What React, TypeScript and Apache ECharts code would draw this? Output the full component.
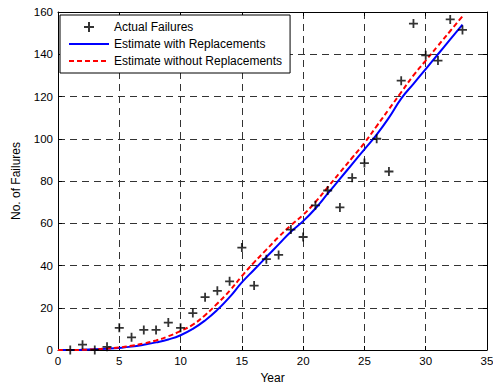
import React, { useEffect, useRef } from "react";
import * as echarts from "echarts";

const years: number[] = Array.from({ length: 34 }, (_, i) => i);
const actualYears: number[] = Array.from({ length: 33 }, (_, i) => i + 1);
const actualFailures: number[] = [
  0, 2.5, 0, 1.5, 10.5, 6, 9.5, 9.5, 13, 10.5, 17.5, 25, 28, 32.5, 48.5, 30.5,
  43, 45, 57, 53.5, 68.5, 75.5, 67.5, 81.5, 88.5, 100, 84.5, 127.5, 154.5, 139.5,
  137, 156.5, 151.5,
];
const estimateWith: number[] = [
  0, 0, 0.1, 0.3, 0.6, 1, 1.6, 2.5, 3.6, 5, 7, 10, 14, 19, 25, 32, 38, 44, 50,
  56, 61, 67, 74, 81, 88, 95, 102, 110, 119, 126, 133, 140, 147, 154,
];
const estimateWithout: number[] = [
  0, 0, 0.1, 0.3, 0.7, 1.2, 2, 3.1, 4.5, 6.5, 9, 12, 16.5, 22, 28, 35, 41.5, 47.5,
  53.5, 59, 64, 70, 77, 84, 91, 98, 106, 114, 122, 130, 137, 144, 151, 158,
];
const xTicks = { min: 0, max: 35, interval: 5 };
const yTicks = { min: 0, max: 160, interval: 20 };

const PLUS = "path://M4,0H6V4H10V6H6V10H4V6H0V4H4Z";
const FONT = "Liberation Sans, Arial, sans-serif";

export default function App() {
  const ref = useRef<HTMLDivElement>(null);
  useEffect(() => {
    if (!ref.current) return;
    const chart = echarts.init(ref.current, null, { renderer: "svg" });
    const grid = { left: 58, right: 6, top: 12, bottom: 34, containLabel: false, outerBoundsMode: "none" };
    const axisCommon = {
      axisLine: { show: true, onZero: false, lineStyle: { color: "#000", width: 1 } },
      axisTick: { show: true, inside: true, length: 4, lineStyle: { color: "#000" } },
    };
    chart.setOption({
      animation: false,
      backgroundColor: "#fff",
      textStyle: { fontFamily: FONT },
      grid,
      legend: {
        orient: "vertical",
        left: 60,
        top: 15,
        width: 242,
        padding: [6, 8, 6, 8],
        itemGap: 5,
        itemWidth: 40,
        itemHeight: 10,
        backgroundColor: "#fff",
        borderColor: "#000",
        borderWidth: 1,
        textStyle: { fontSize: 12, color: "#000", fontFamily: FONT },
        data: [
          { name: "Actual Failures" },
          { name: "Estimate with Replacements", itemStyle: { opacity: 0 } },
          { name: "Estimate without Replacements", itemStyle: { opacity: 0 } },
        ],
      },
      xAxis: [
        {
          type: "value",
          ...xTicks,
          name: "Year",
          nameLocation: "middle",
          nameGap: 21,
          nameTextStyle: { fontSize: 12, color: "#000" },
          ...axisCommon,
          axisLabel: { fontSize: 11.5, color: "#000", margin: 5 },
          splitLine: { show: true, lineStyle: { color: "#333", type: [7, 5], width: 1 } },
        },
        {
          type: "value",
          position: "top",
          ...xTicks,
          ...axisCommon,
          axisLabel: { show: false },
          splitLine: { show: false },
        },
      ],
      yAxis: [
        {
          type: "value",
          ...yTicks,
          name: "No. of Failures",
          nameLocation: "middle",
          nameGap: 36,
          nameTextStyle: { fontSize: 12, color: "#000" },
          ...axisCommon,
          axisLabel: { fontSize: 11.5, color: "#000", margin: 5 },
          splitLine: { show: true, lineStyle: { color: "#333", type: [7, 5], width: 1 } },
        },
        {
          type: "value",
          position: "right",
          ...yTicks,
          ...axisCommon,
          axisLabel: { show: false },
          splitLine: { show: false },
        },
      ],
      series: [
        {
          name: "Actual Failures",
          type: "scatter",
          symbol: PLUS,
          symbolSize: 9,
          itemStyle: { color: "#000" },
          data: actualYears.map((x, i) => [x, actualFailures[i]]),
          z: 5,
        },
        {
          name: "Estimate with Replacements",
          type: "line",
          symbol: "none",
          smooth: true,
          lineStyle: { color: "#0000ff", width: 2 },
          itemStyle: { color: "#0000ff" },
          data: years.map((x, i) => [x, estimateWith[i]]),
        },
        {
          name: "Estimate without Replacements",
          type: "line",
          symbol: "none",
          smooth: true,
          lineStyle: { color: "#ff0000", width: 2, type: [5, 3] },
          itemStyle: { color: "#ff0000" },
          data: years.map((x, i) => [x, estimateWithout[i]]),
        },
      ],
    });
    return () => chart.dispose();
  }, []);
  return <div ref={ref} style={{ width: 493, height: 384, position: "absolute", left: 0, top: 0 }} />;
}
